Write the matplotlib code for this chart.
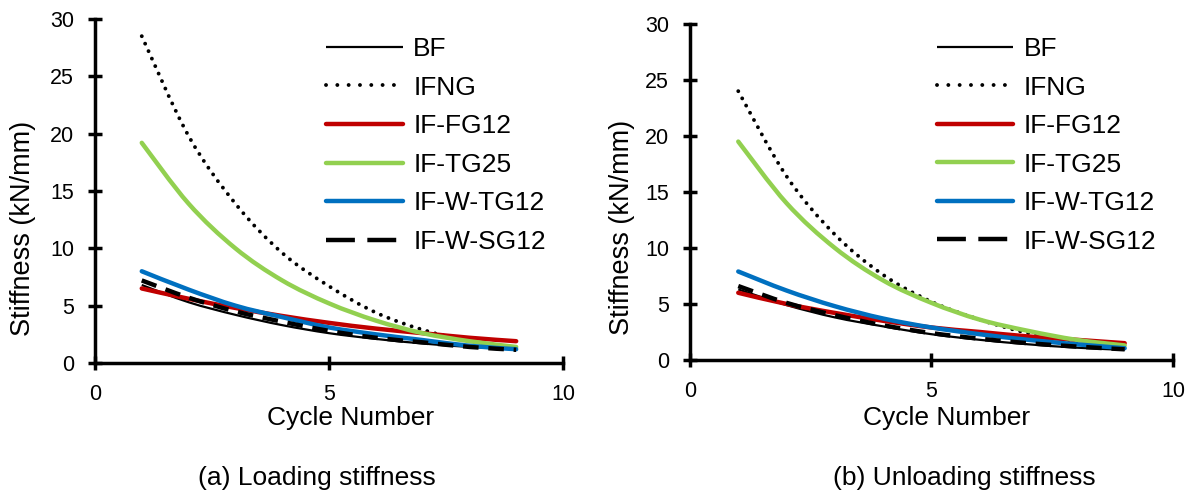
import matplotlib
matplotlib.use('Agg')
import matplotlib.pyplot as plt
from matplotlib.path import Path
from matplotlib.patches import PathPatch
from matplotlib.lines import Line2D

plt.rcParams['font.family'] = ['Liberation Sans', 'DejaVu Sans']

# Data
cycles = [1, 2, 3, 4, 5, 6, 7, 8, 9]
series_names = ['BF', 'IFNG', 'IF-FG12', 'IF-TG25', 'IF-W-TG12', 'IF-W-SG12']

loading = {
    'BF':        [6.8, 5.3, 4.2, 3.3, 2.6, 2.1, 1.7, 1.4, 1.2],
    'IFNG':      [28.5, 19.8, 13.9, 9.6, 6.7, 4.4, 2.9, 1.9, 1.35],
    'IF-FG12':   [6.5, 5.6, 4.8, 4.1, 3.5, 3.0, 2.6, 2.2, 1.9],
    'IF-TG25':   [19.2, 13.9, 10.0, 7.2, 5.2, 3.7, 2.6, 1.9, 1.4],
    'IF-W-TG12': [8.0, 6.4, 5.0, 4.0, 3.1, 2.5, 2.0, 1.5, 1.2],
    'IF-W-SG12': [7.2, 5.7, 4.5, 3.6, 2.8, 2.2, 1.8, 1.4, 1.15],
}
unloading = {
    'BF':        [6.3, 4.9, 3.8, 3.0, 2.3, 1.8, 1.4, 1.1, 0.9],
    'IFNG':      [24.0, 16.4, 11.2, 7.6, 5.2, 3.6, 2.4, 1.7, 1.15],
    'IF-FG12':   [6.0, 5.0, 4.2, 3.5, 2.9, 2.5, 2.1, 1.8, 1.5],
    'IF-TG25':   [19.5, 14.0, 10.0, 7.1, 5.1, 3.6, 2.6, 1.8, 1.3],
    'IF-W-TG12': [7.9, 6.2, 4.8, 3.7, 2.9, 2.3, 1.8, 1.4, 1.05],
    'IF-W-SG12': [6.6, 5.1, 4.0, 3.1, 2.4, 1.9, 1.5, 1.2, 0.95],
}
captions = ['(a) Loading stiffness', '(b) Unloading stiffness']

# line style in plot, and the (longer) pattern Excel draws in the legend
styles = {
    'BF':        dict(color='black', lw=1.6, ls='-', lls='-', cap='butt'),
    'IFNG':      dict(color='black', lw=2.8, ls=(0, (0.01, 2.1)),
                      lls=(0, (0.01, 2.9)), cap='round'),
    'IF-FG12':   dict(color='#C00000', lw=3.2, ls='-', lls='-', cap='round'),
    'IF-TG25':   dict(color='#92D050', lw=3.2, ls='-', lls='-', cap='round'),
    'IF-W-TG12': dict(color='#0070C0', lw=3.2, ls='-', lls='-', cap='round'),
    'IF-W-SG12': dict(color='black', lw=3.2, ls=(0, (3.5, 2.2)),
                      lls=(0, (6.5, 2.8)), cap='butt'),
}


def smooth_path(xs, ys):
    # Excel style smoothed line: cubic bezier through the points
    pts = list(zip(xs, ys))
    verts = [pts[0]]
    codes = [Path.MOVETO]
    n = len(pts)
    for i in range(n - 1):
        p0 = pts[i - 1] if i > 0 else pts[i]
        p1 = pts[i]
        p2 = pts[i + 1]
        p3 = pts[i + 2] if i + 2 < n else pts[i + 1]
        c1 = (p1[0] + (p2[0] - p0[0]) / 6, p1[1] + (p2[1] - p0[1]) / 6)
        c2 = (p2[0] - (p3[0] - p1[0]) / 6, p2[1] - (p3[1] - p1[1]) / 6)
        verts += [c1, c2, p2]
        codes += [Path.CURVE4] * 3
    return Path(verts, codes)


fig = plt.figure(figsize=(11.9, 4.94), dpi=100)
ax1 = fig.add_axes([0.0798, 0.2652, 0.3933, 0.6964])
ax2 = fig.add_axes([0.5798, 0.2713, 0.4059, 0.6802])

# ax, data, caption, legend x/y, xlabel y, ylabel x/y, caption x
panels = [(ax1, loading, captions[0], 0.494, 0.947, -0.160, -0.154, 0.392, 0.266),
          (ax2, unloading, captions[1], 0.511, 0.961, -0.173, -0.141, 0.393, 0.810)]

for ax, data, cap, lx, ly, xly, ylx, yly, capx in panels:
    handles = []
    for name in series_names:
        st = styles[name]
        patch = PathPatch(smooth_path(cycles, data[name]), fill=False,
                          edgecolor=st['color'], linewidth=st['lw'],
                          linestyle=st['ls'], capstyle=st['cap'],
                          joinstyle='round')
        ax.add_patch(patch)
        handles.append(Line2D([], [], color=st['color'], lw=st['lw'],
                              ls=st['lls'], dash_capstyle=st['cap'],
                              solid_capstyle=st['cap'], label=name))
    ax.set_xlim(0, 10)
    ax.set_ylim(0, 30)
    ax.set_xticks([0, 5, 10])
    ax.set_yticks(range(0, 31, 5))
    for s in ['top', 'right']:
        ax.spines[s].set_visible(False)
    for s in ['left', 'bottom']:
        ax.spines[s].set_linewidth(2.5)
    ax.tick_params(direction='inout', length=10, width=2.5, labelsize=15.5,
                   pad=10)
    ax.set_xlabel('Cycle Number', fontsize=19, va='center')
    ax.xaxis.set_label_coords(0.547 if ax is ax1 else 0.532, xly)
    ax.set_ylabel('Stiffness (kN/mm)', fontsize=19.5, va='center')
    ax.yaxis.set_label_coords(ylx, yly)
    ax.legend(handles=handles, loc='upper left', bbox_to_anchor=(lx, ly),
              frameon=False, fontsize=19, handlelength=2.9,
              handletextpad=0.4, labelspacing=0.55, borderpad=0,
              borderaxespad=0)
    fig.text(capx, 1 - 485 / 494, cap, ha='center', va='baseline',
             fontsize=19)

fig.savefig('out.png', dpi=100)
